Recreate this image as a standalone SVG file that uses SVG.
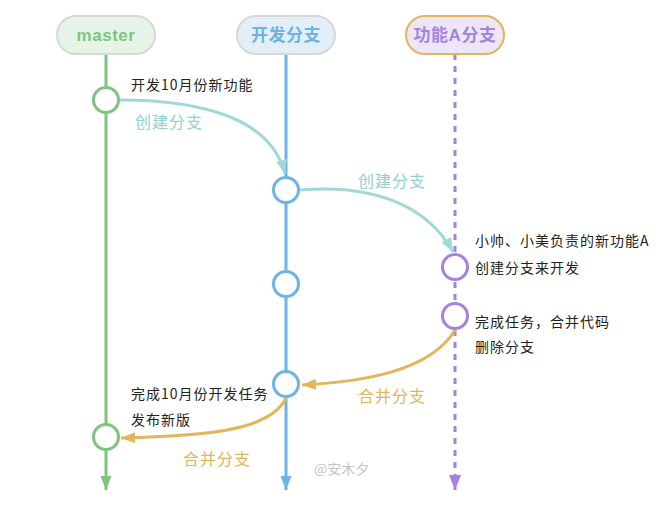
<svg xmlns="http://www.w3.org/2000/svg" width="669" height="507" viewBox="0 0 669 507">
  <style>
    .cjk { font-family: "Noto Sans CJK SC", "Liberation Sans", sans-serif; }
    .head { font-family: "Liberation Sans", "Noto Sans CJK SC", sans-serif; font-weight: bold; font-size: 17px; text-anchor: middle; letter-spacing: 0.5px; }
    .note { font-size: 14px; fill: #222; letter-spacing: 1px; }
    .lbl { font-size: 16px; letter-spacing: 1px; }
    .commit { fill: #fff; stroke-width: 3; }
    .lane { stroke-width: 3; fill: none; }
    .link { stroke-width: 3; fill: none; }
  </style>
  <defs>
    <marker id="arrow-green" markerUnits="userSpaceOnUse" markerWidth="14" markerHeight="11" refX="14" refY="5.5" orient="auto">
      <path d="M0,0 L14,5.5 L0,11 z" fill="#7ec47f"/>
    </marker>
    <marker id="arrow-blue" markerUnits="userSpaceOnUse" markerWidth="14" markerHeight="11" refX="14" refY="5.5" orient="auto">
      <path d="M0,0 L14,5.5 L0,11 z" fill="#6db3e6"/>
    </marker>
    <marker id="arrow-purple" markerUnits="userSpaceOnUse" markerWidth="15" markerHeight="12" refX="15" refY="6" orient="auto">
      <path d="M0,0 L15,6 L0,12 z" fill="#a482e0"/>
    </marker>
    <marker id="arrow-teal" markerUnits="userSpaceOnUse" markerWidth="14" markerHeight="11" refX="14" refY="5.5" orient="auto">
      <path d="M0,0 L14,5.5 L0,11 z" fill="#9fd8d6"/>
    </marker>
    <marker id="arrow-gold" markerUnits="userSpaceOnUse" markerWidth="14" markerHeight="11" refX="14" refY="5.5" orient="auto">
      <path d="M0,0 L14,5.5 L0,11 z" fill="#e1b558"/>
    </marker>
  </defs>

  <rect width="669" height="507" fill="#fff"/>

  <!-- branch lanes -->
  <g id="lanes">
    <line class="lane" x1="106" y1="54" x2="106" y2="490" stroke="#7ec47f" marker-end="url(#arrow-green)"/>
    <line class="lane" x1="286" y1="54" x2="286" y2="490" stroke="#6db3e6" marker-end="url(#arrow-blue)"/>
    <line class="lane" x1="455" y1="54" x2="455" y2="490" stroke="#a482e0" stroke-dasharray="6 6" marker-end="url(#arrow-purple)"/>
  </g>

  <!-- connectors between branches -->
  <g id="connectors">
    <path class="link" d="M120,100 C210,100 272,122 285,174" stroke="#9fd8d6" marker-end="url(#arrow-teal)"/>
    <path class="link" d="M300,190 C380,183 430,210 453,252" stroke="#9fd8d6" marker-end="url(#arrow-teal)"/>
    <path class="link" d="M455,330 C430,372 360,382 302,385" stroke="#e1b558" marker-end="url(#arrow-gold)"/>
    <path class="link" d="M286,398 C270,432 200,436 121,438" stroke="#e1b558" marker-end="url(#arrow-gold)"/>
    <text class="cjk lbl" x="135" y="128" fill="#8fd0d0">创建分支</text>
    <text class="cjk lbl" x="358" y="187" fill="#8fd0d0">创建分支</text>
    <text class="cjk lbl" x="358" y="402" fill="#e1b558">合并分支</text>
    <text class="cjk lbl" x="183" y="465" fill="#e1b558">合并分支</text>
  </g>

  <!-- branch headers -->
  <g id="head-master">
    <rect x="57" y="16" width="98" height="38" rx="19" fill="#e6f4e8" stroke="#d8d8d8" stroke-width="2"/>
    <text class="head" x="106" y="41" fill="#7ec47f">master</text>
  </g>
  <g id="head-dev">
    <rect x="237" y="16" width="98" height="38" rx="19" fill="#e2eff9" stroke="#d8d8d8" stroke-width="2"/>
    <text class="head" x="286" y="41" fill="#6db3e6">开发分支</text>
  </g>
  <g id="head-feature">
    <rect x="406" y="16" width="98" height="38" rx="19" fill="#ede6f8" stroke="#e1b558" stroke-width="2"/>
    <text class="head" x="455" y="41" fill="#a482e0">功能A分支</text>
  </g>

  <!-- commits -->
  <g id="commit-master-1">
    <circle class="commit" cx="106" cy="100" r="12.5" stroke="#7ec47f"/>
    <text class="cjk note" x="131" y="90">开发10月份新功能</text>
  </g>
  <g id="commit-dev-1">
    <circle class="commit" cx="286" cy="190" r="12.5" stroke="#6db3e6"/>
  </g>
  <g id="commit-feature-1">
    <circle class="commit" cx="455" cy="267" r="12.5" stroke="#a482e0"/>
    <text class="cjk note" x="475" y="246">小帅、小美负责的新功能A</text>
    <text class="cjk note" x="475" y="273">创建分支来开发</text>
  </g>
  <g id="commit-dev-2">
    <circle class="commit" cx="286" cy="284" r="12.5" stroke="#6db3e6"/>
  </g>
  <g id="commit-feature-2">
    <circle class="commit" cx="455" cy="316" r="12.5" stroke="#a482e0"/>
    <text class="cjk note" x="475" y="327">完成任务，合并代码</text>
    <text class="cjk note" x="475" y="352">删除分支</text>
  </g>
  <g id="commit-dev-3">
    <circle class="commit" cx="286" cy="384" r="12.5" stroke="#6db3e6"/>
    <text class="cjk note" x="131" y="399">完成10月份开发任务</text>
    <text class="cjk note" x="131" y="425">发布新版</text>
  </g>
  <g id="commit-master-2">
    <circle class="commit" cx="106" cy="437" r="12.5" stroke="#7ec47f"/>
  </g>

  <text class="cjk" x="314" y="474" font-size="14" fill="#c4c4c4">@安木夕</text>
</svg>
